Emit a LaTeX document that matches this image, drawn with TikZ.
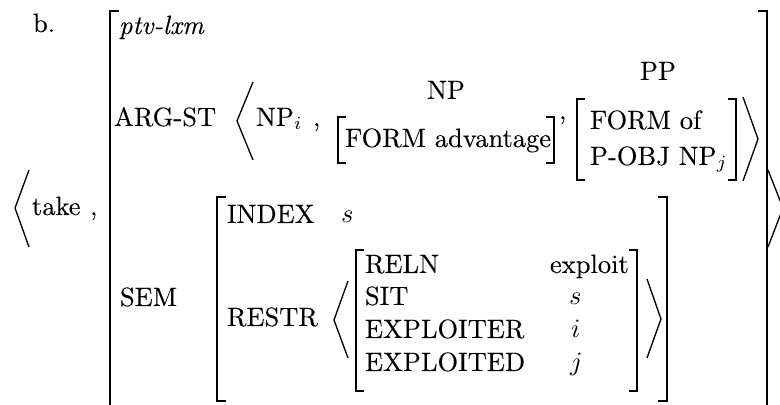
\documentclass[tikz,border=0pt]{standalone}
\usepackage{fontspec}
\setmainfont{Latin Modern Roman}[FakeBold=0.1]
\begin{document}
\begin{tikzpicture}[x=0.3774pt,y=-0.3774pt,
  br/.style={line width=0.55pt, line join=miter, line cap=butt},
  ang/.style={line width=0.5pt, line join=miter, miter limit=20},
  lbl/.style={anchor=base west, inner sep=0pt, outer sep=0pt},
  ctr/.style={anchor=base, inner sep=0pt, outer sep=0pt}]
\useasboundingbox (0,0) rectangle (780,405);
\clip (0,0) rectangle (780,405);
% label
\node[lbl] (ex) at (33,32) {b.};
% outer angle brackets
\draw[ang] (29,170) -- (15,208) -- (29,247);
\draw[ang] (768,170) -- (783,208) -- (768,247);
\node[lbl] (take) at (32,215) {take};
\node[lbl] (c0) at (90,215) {,};
% outer AVM brackets
\draw[br] (119,11) -- (110,11) -- (110,412);
\draw[br] (758,11) -- (767,11) -- (767,412);
\node[lbl] (type) at (119,34) {\textit{ptv-lxm}};
% ARG-ST
\node[lbl] (argst) at (114,126) {ARG-ST};
\draw[ang] (253,82) -- (237,121) -- (253,160);
\node[lbl] (npi) at (256,126) {NP$_i$};
\node[lbl] (c1) at (313,126) {,};
\node[ctr] (nplab) at (446,99) {NP};
\draw[br] (346,117) -- (338,117) -- (338,163) -- (346,163);
\node[lbl] (fadv) at (345,147) {FORM advantage};
\draw[br] (546,117) -- (554,117) -- (554,163) -- (546,163);
\node[lbl] (c2) at (559,119) {,};
\node[ctr] (pplab) at (658,80) {PP};
\draw[br] (585,99) -- (577,99) -- (577,180) -- (585,180);
\node[lbl] (fof) at (590,129) {FORM of};
\node[lbl] (pobj) at (590,165) {P-OBJ NP$_j$};
\draw[br] (728,99) -- (736,99) -- (736,180) -- (728,180);
\draw[ang] (743,97) -- (758,139) -- (743,181);
% SEM
\node[lbl] (sem) at (120,306) {SEM};
\draw[br] (226,197) -- (217,197) -- (217,401) -- (226,401);
\draw[br] (658,197) -- (667,197) -- (667,401) -- (658,401);
\node[lbl] (index) at (227,223) {INDEX};
\node[lbl] (idxv) at (341,223) {$s$};
\node[lbl] (restr) at (227,326) {RESTR};
\draw[ang] (348,281) -- (334,320) -- (348,358);
\draw[br] (364,250) -- (356,250) -- (356,391) -- (364,391);
\node[lbl] (reln) at (365,273) {RELN};
\node[lbl] (sit) at (365,305) {SIT};
\node[lbl] (exr) at (365,338) {EXPLOITER};
\node[lbl] (exd) at (365,371) {EXPLOITED};
\node[lbl] (relnv) at (550,273) {exploit};
\node[lbl] (sitv) at (569,305) {$s$};
\node[lbl] (exrv) at (571,338) {$i$};
\node[lbl] (exdv) at (570,371) {$j$};
\draw[br] (629,250) -- (637,250) -- (637,391) -- (629,391);
\draw[ang] (647,279) -- (661,319) -- (647,358);
\end{tikzpicture}
\end{document}
